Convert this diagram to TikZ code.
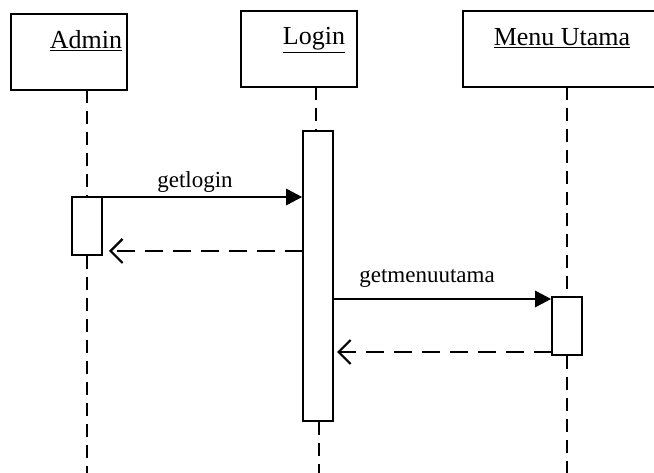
\documentclass[tikz,border=0pt]{standalone}
\usepackage{fontspec}
\setmainfont{Liberation Serif}
\usetikzlibrary{arrows.meta}
\begin{document}
\begin{tikzpicture}[x=1pt,y=-1pt,
  objbox/.style={draw, line width=1.7pt, minimum width=116pt, minimum height=76pt, inner sep=0pt},
  objname/.style={font=\fontsize{26}{30}\selectfont, inner sep=0pt, anchor=base},
  actbox/.style={draw, fill=white, line width=1.6pt, minimum width=30pt, inner sep=0pt},
  life/.style={line width=1.6pt, dash pattern=on 13pt off 8pt},
  callmsg/.style={line width=2.7pt, -{Triangle[length=16pt,width=16pt]}},
  retmsg/.style={line width=2.7pt, dash pattern=on 18pt off 10pt, -{Straight Barb[length=12pt,width=24pt,line width=2.2pt]}},
  msglabel/.style={font=\fontsize{23}{27}\selectfont, inner sep=0pt, anchor=base}]
\useasboundingbox (0,0) rectangle (654,473);
\clip (0,0) rectangle (654,473);
% object boxes
\node[objbox] (admin) at (69,52) {};
\node[objbox] (login) at (299,49) {};
\node[objbox, minimum width=200pt] (menu) at (563,49) {};
\node[objname] (adminT) at (86,49) {\underline{Admin}};
\node[objname] (loginT) at (314,45) {\underline{Login}};
\node[objname] (menuT) at (562,46) {\underline{Menu Utama}};
% activations
\node[actbox, minimum height=58pt] (aAct) at (87,226) {};
\node[actbox, minimum height=290pt] (lAct) at (318,276) {};
\node[actbox, minimum height=58pt] (mAct) at (567,326) {};
% lifeline points
\coordinate (aTop) at (87,90);
\coordinate (aBot) at (87,473);
\coordinate (lTop) at (316,87);
\coordinate (lBot) at (319,473);
\coordinate (mTop) at (567,87);
\coordinate (mBot) at (567,473);
\draw[life] (aTop) -- (aAct.north);
\draw[life] (aAct.south) -- (aBot);
\draw[life] (lTop) -- (lTop |- lAct.north);
\draw[life] (lBot |- lAct.south) -- (lBot);
\draw[life] (mTop) -- (mAct.north);
\draw[life] (mAct.south) -- (mBot);
% message points
\coordinate (m1s) at (102,197);
\coordinate (m2s) at (303,251);
\coordinate (m2e) at (109,251);
\coordinate (m3s) at (333,299);
\coordinate (m4s) at (552,352);
\coordinate (m4e) at (337,352);
% messages
\draw[callmsg] (m1s) -- (m1s -| lAct.west);
\node[msglabel] (l1) at (195,188) {getlogin};
\draw[retmsg] (m2s) -- (m2e);
\draw[callmsg] (m3s) -- (m3s -| mAct.west);
\node[msglabel] (l2) at (427,283) {getmenuutama};
\draw[retmsg] (m4s) -- (m4e);
\end{tikzpicture}
\end{document}
